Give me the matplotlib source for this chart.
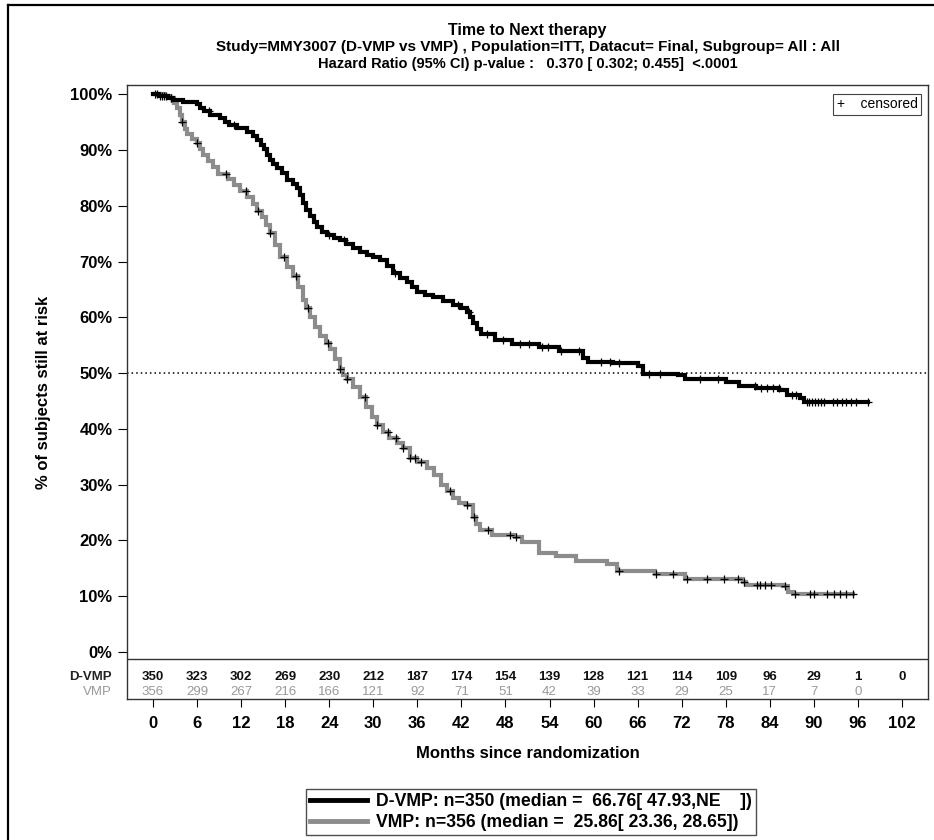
import numpy as np
import matplotlib
matplotlib.use('Agg')
import matplotlib.pyplot as plt
from matplotlib.lines import Line2D
from matplotlib import transforms

plt.rcParams['font.family'] = ['Liberation Sans', 'DejaVu Sans']

# Kaplan-Meier step points (months, % still at risk)
dvmp_t = [0, 0.8, 2.0, 2.7, 4.1, 6.0, 6.4, 6.9, 7.8, 9.1, 9.8, 10.3, 11.4, 12.8, 13.6,
          14.2, 14.7, 15.1, 15.5, 15.9, 16.4, 16.9, 17.6, 18.3, 19.0, 19.6, 20.0, 20.4,
          20.9, 21.4, 21.9, 22.3, 23.0, 23.7, 24.6, 25.5, 26.3, 27.2, 28.2, 29.1, 30.0,
          30.9, 31.8, 32.7, 33.7, 34.6, 35.3, 36.0, 37.0, 38.1, 39.5, 40.9, 41.9, 42.8,
          43.2, 43.6, 44.1, 44.7, 46.6, 48.9, 52.6, 55.3, 58.6, 59.3, 62.7, 66.0, 66.76,
          71.5, 72.4, 78.0, 79.8, 82.1, 85.3, 86.3, 88.1, 88.6]
dvmp_s = [100, 99.7, 99.3, 99.0, 98.6, 98.2, 97.6, 97.0, 96.3, 95.8, 95.1, 94.5, 94.0, 93.3, 92.6,
          91.8, 91.0, 90.2, 89.2, 88.3, 87.5, 86.8, 85.9, 84.7, 83.9, 83.2, 81.9, 80.6,
          79.3, 78.1, 77.1, 76.2, 75.4, 74.8, 74.3, 73.9, 73.2, 72.5, 71.8, 71.2, 70.8,
          70.3, 69.2, 68.0, 67.1, 66.3, 65.4, 64.6, 64.0, 63.6, 63.0, 62.3, 61.6, 60.9,
          60.0, 59.0, 58.0, 57.0, 55.9, 55.2, 54.6, 54.0, 52.8, 52.0, 51.9, 51.3, 49.9,
          49.7, 49.0, 48.5, 47.7, 47.4, 47.0, 46.1, 45.5, 44.9]
dvmp_end = 97.4

vmp_t = [0, 1.5, 2.3, 2.8, 3.3, 3.7, 4.0, 4.3, 4.6, 5.3, 6.0, 6.4, 6.8, 7.5, 8.2, 8.9, 10.2,
         11.0, 11.9, 12.8, 13.6, 14.2, 14.8, 15.4, 15.9, 16.6, 17.3, 18.2, 19.1, 19.7, 20.4,
         20.9, 21.4, 22.1, 22.8, 23.5, 24.1, 24.8, 25.5, 25.86, 26.4, 27.2, 28.2, 29.0, 29.8,
         30.5, 31.3, 32.2, 33.2, 34.0, 35.0, 36.0, 37.3, 38.2, 39.2, 40.0, 40.8, 41.7, 42.6,
         43.6, 44.0, 44.5, 46.1, 49.3, 50.3, 52.6, 54.9, 57.6, 61.8, 63.2, 68.3, 72.4, 80.3,
         80.7, 85.8, 86.5, 87.2]
vmp_s = [100, 99.7, 99.3, 98.5, 97.6, 96.3, 95.0, 93.8, 92.8, 92.0, 91.3, 90.2, 89.2, 88.1, 87.0,
         85.7, 84.9, 83.8, 82.6, 81.5, 80.4, 79.1, 78.0, 76.6, 75.2, 73.0, 70.9, 69.1, 67.4,
         65.4, 63.2, 61.6, 60.1, 58.3, 56.6, 55.4, 54.3, 52.5, 50.7, 49.6, 49.0, 47.6, 45.8,
         43.9, 42.1, 40.7, 39.5, 38.4, 37.5, 36.5, 34.8, 34.0, 33.0, 31.8, 30.0, 28.8, 27.6,
         26.8, 26.3, 24.2, 23.0, 21.8, 20.9, 20.6, 19.7, 17.8, 17.2, 16.3, 15.7, 14.5, 13.9,
         13.0, 12.6, 12.1, 11.9, 10.8, 10.4]
vmp_end = 95.3

# censoring times
dvmp_cens = [0.3, 0.6, 0.9, 1.2, 1.5, 1.8, 2.4, 7.6, 11.0, 24.0, 26.0, 33.0, 41.5, 43.0,
             45.5, 47.6, 50.0, 51.2, 53.0, 53.8, 55.6, 58.0, 61.0, 62.2, 63.5, 67.5, 69.0,
             74.5, 77.0, 82.0, 82.8, 83.6, 84.4, 85.2, 87.0, 87.6, 89.0, 89.4, 89.8, 90.2,
             90.6, 91.0, 91.4, 92.6, 93.2, 93.8, 94.4, 95.0, 95.8, 97.4]
vmp_cens = [2.5, 4.0, 6.0, 10.0, 12.6, 14.3, 15.9, 17.8, 19.5, 21.1, 23.8, 25.5, 26.4, 28.9,
            30.5, 32.0, 33.1, 34.0, 35.0, 35.7, 36.5, 40.5, 42.7, 43.7, 45.6, 48.6, 49.5,
            63.4, 68.5, 70.8, 72.7, 75.4, 77.8, 79.6, 80.5, 82.2, 82.7, 83.4, 84.1, 86.0,
            87.4, 89.5, 90.0, 91.8, 92.8, 93.6, 94.4, 95.3]

# numbers at risk
risk_times = [0, 6, 12, 18, 24, 30, 36, 42, 48, 54, 60, 66, 72, 78, 84, 90, 96, 102]
dvmp_risk = [350, 323, 302, 269, 230, 212, 187, 174, 154, 139, 128, 121, 114, 109, 96, 29, 1, 0]
vmp_risk = [356, 299, 267, 216, 166, 121, 92, 71, 51, 42, 39, 33, 29, 25, 17, 7, 0]

dvmp_label = 'D-VMP: n=350 (median =  66.76[ 47.93,NE    ])'
vmp_label = 'VMP: n=356 (median =  25.86[ 23.36, 28.65])'

BLACK = '#000000'
GREY = '#8c8c8c'

fig = plt.figure(figsize=(9.34, 8.40), dpi=100)
ax = fig.add_axes([127 / 934, 1 - 699 / 840, 801 / 934, 614 / 840])


def step_at(t, s, x):
    idx = np.searchsorted(t, x, side='right') - 1
    return np.asarray(s)[idx]


for t, s, end, cens, col in [(vmp_t, vmp_s, vmp_end, vmp_cens, GREY),
                             (dvmp_t, dvmp_s, dvmp_end, dvmp_cens, BLACK)]:
    ax.step(list(t) + [end], list(s) + [s[-1]], where='post', color=col, lw=3.0,
            solid_joinstyle='miter')
    ax.plot(cens, step_at(t, s, cens), ls='none', marker='+', ms=6, mew=0.9,
            color='black')

ax.axhline(50, color='black', lw=1.1, ls=(0, (1, 2)))
ax.axhline(-1.25, color='#333333', lw=1.0)

ax.set_xlim(-3.54, 105.54)
ax.set_ylim(-8.43, 101.67)
ax.set_yticks(np.arange(0, 101, 10))
ax.set_yticklabels([f'{v}%' for v in range(0, 101, 10)])
ax.set_xticks(risk_times)
ax.set_xticklabels([str(v) for v in risk_times])
ax.tick_params(axis='y', length=6.5, width=0.8, pad=4, labelsize=12)
ax.tick_params(axis='x', length=6, width=0.8, pad=6, labelsize=12)
for lab in ax.get_xticklabels() + ax.get_yticklabels():
    lab.set_fontweight('bold')
for sp in ax.spines.values():
    sp.set_color('#333333')
    sp.set_linewidth(1.0)

# numbers-at-risk table inside the bottom band
trans = transforms.blended_transform_factory(ax.transAxes, ax.transData)
ax.text(-0.019, -4.5, 'D-VMP', transform=trans, ha='right', va='center',
        fontsize=9.5, fontweight='bold', color='#222222')
ax.text(-0.019, -7.1, 'VMP', transform=trans, ha='right', va='center',
        fontsize=9.5, color='#999999')
for x, n in zip(risk_times, dvmp_risk):
    ax.text(x, -4.5, str(n), ha='center', va='center', fontsize=9.5,
            fontweight='bold', color='#111111')
for x, n in zip(risk_times, vmp_risk):
    ax.text(x, -7.1, str(n), ha='center', va='center', fontsize=9.5, color='#999999')

ax.text(0.987, 0.980, '+    censored', transform=ax.transAxes, ha='right', va='top',
        fontsize=10, bbox=dict(boxstyle='square,pad=0.25', fc='white', ec='#444444', lw=0.8))

ax.set_xlabel('Months since randomization', fontsize=12, fontweight='bold', labelpad=11)
ax.set_ylabel('% of subjects still at risk', fontsize=12, fontweight='bold', labelpad=14)

cx = (127 + 928) / 2 / 934
fig.text(cx, 1 - 31 / 840, 'Time to Next therapy', ha='center', va='center',
         fontsize=11.5, fontweight='bold')
fig.text(cx, 1 - 47 / 840,
         'Study=MMY3007 (D-VMP vs VMP) , Population=ITT, Datacut= Final, Subgroup= All : All',
         ha='center', va='center', fontsize=11, fontweight='bold')
fig.text(cx, 1 - 64 / 840,
         'Hazard Ratio (95% CI) p-value :   0.370 [ 0.302; 0.455]  <.0001',
         ha='center', va='center', fontsize=10.5, fontweight='bold')

handles = [Line2D([], [], color=BLACK, lw=3.5), Line2D([], [], color=GREY, lw=3.5)]
leg = fig.legend(handles, [dvmp_label, vmp_label], loc='upper center',
                 bbox_to_anchor=(531 / 934, 1 - 780 / 840), frameon=True, fancybox=False,
                 edgecolor='#222222', handlelength=3.2, handletextpad=0.5,
                 borderpad=0.25, labelspacing=0.2, prop={'weight': 'bold', 'size': 12.7})
leg.get_frame().set_linewidth(1.0)

# outer frame
fig.add_artist(Line2D([8 / 934, 8 / 934], [0, 1 - 5 / 840], transform=fig.transFigure,
                      color='black', lw=1.6))
fig.add_artist(Line2D([8 / 934, 1], [1 - 5 / 840, 1 - 5 / 840], transform=fig.transFigure,
                      color='black', lw=1.6))

fig.savefig('out.png', dpi=100)
